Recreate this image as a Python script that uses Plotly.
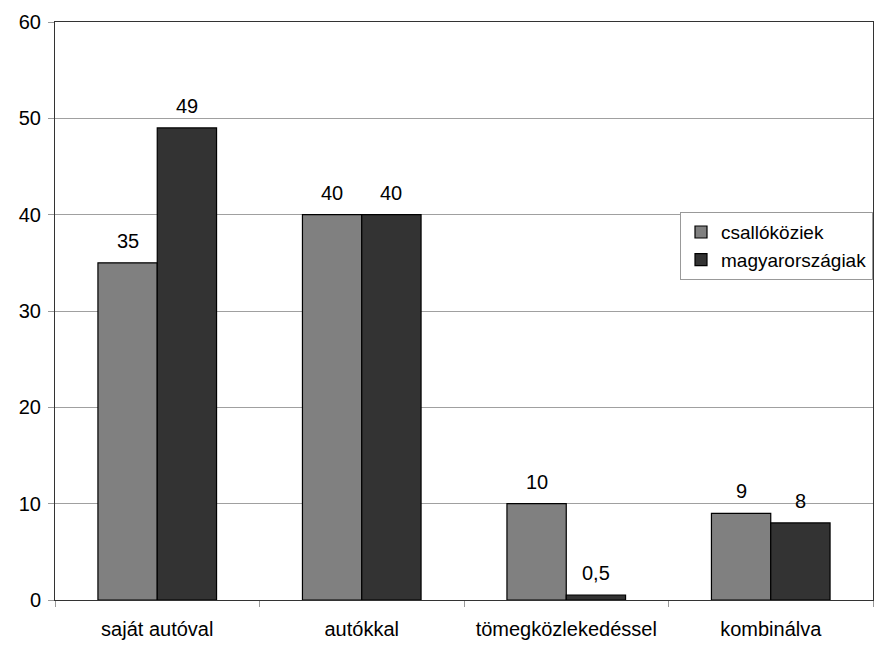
import plotly.graph_objects as go

categories = ["saját autóval", "autókkal", "tömegközlekedéssel", "kombinálva"]
csallokoziek = [35, 40, 10, 9]
magyarorszagiak = [49, 40, 0.5, 8]
series_names = ["csallóköziek", "magyarországiak"]
y_ticks = [0, 10, 20, 30, 40, 50, 60]

def fmt(v):
    return str(v).replace(".", ",")

FONT = "Liberation Sans, Arial, sans-serif"
FS = 20

fig = go.Figure()
fig.add_trace(go.Bar(
    x=categories, y=csallokoziek, name=series_names[0],
    marker=dict(color="#808080", line=dict(color="#000000", width=1.2)),
))
fig.add_trace(go.Bar(
    x=categories, y=magyarorszagiak, name=series_names[1],
    marker=dict(color="#333333", line=dict(color="#000000", width=1.2)),
))

annotations = []
for series, shift in ((csallokoziek, -29.5), (magyarorszagiak, 29.5)):
    for c, v in zip(categories, series):
        annotations.append(dict(
            x=c, y=v, xref="x", yref="y", text=fmt(v), showarrow=False,
            xshift=shift, yshift=9, yanchor="bottom",
            font=dict(size=FS, color="#000000", family=FONT),
        ))

fig.update_layout(
    width=890, height=650,
    margin=dict(l=55, r=17, t=22, b=50, autoexpand=False),
    paper_bgcolor="white", plot_bgcolor="white",
    barmode="group", bargap=0.42, bargroupgap=0,
    font=dict(family=FONT, size=FS, color="#000000"),
    showlegend=True,
    annotations=annotations,
    legend=dict(
        x=1.0, y=0.671, xanchor="right", yanchor="top",
        bgcolor="white", bordercolor="#999999", borderwidth=1,
        font=dict(size=FS - 1, family=FONT),
        tracegroupgap=4,
    ),
    xaxis=dict(
        showline=True, linecolor="#333333", linewidth=1, mirror=True,
        ticks="outside", tickson="boundaries", ticklen=6, tickcolor="#999999",
        showgrid=False, tickfont=dict(size=FS), ticklabelstandoff=11,
    ),
    yaxis=dict(
        range=[0, 60], tickvals=y_ticks,
        showline=True, linecolor="#333333", linewidth=1, mirror=True,
        ticks="outside", ticklen=6, tickcolor="#999999",
        showgrid=True, gridcolor="#a0a0a0", gridwidth=1,
        tickfont=dict(size=FS), zeroline=False, ticklabelstandoff=3,
    ),
)

fig.write_html("out.html")
